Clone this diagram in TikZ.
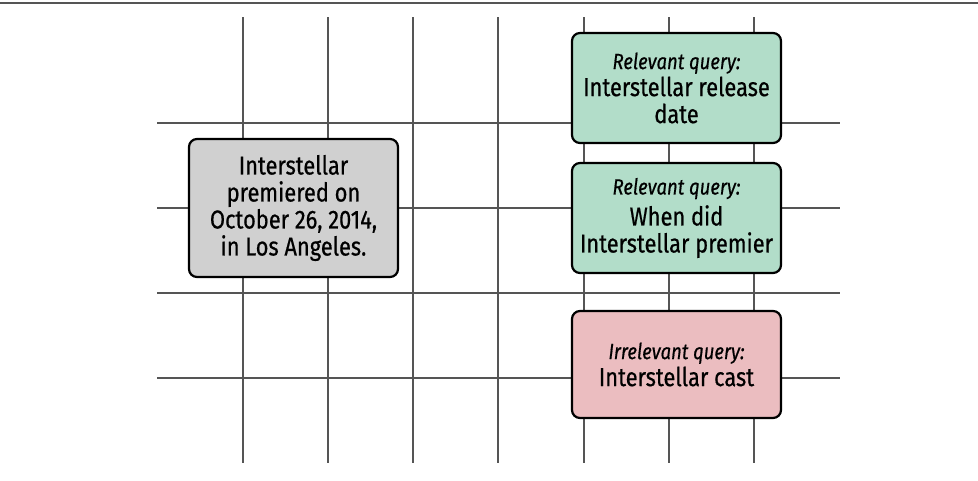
\documentclass[tikz,border=0pt]{standalone}
\usepackage{fontspec}
\setmainfont{Fira Sans}[FakeStretch=0.84,FakeBold=0.6]
\definecolor{gridc}{HTML}{555555}
\definecolor{grayfill}{HTML}{D0D0D0}
\definecolor{greenfill}{HTML}{B2DDC9}
\definecolor{redfill}{HTML}{EBBDC0}
\tikzset{
  gridline/.style={draw=gridc, line width=1.6pt},
  card/.style={draw=black, line width=2.2pt, rounded corners=8pt, align=center,
    minimum width=209pt, inner sep=2pt, font=\fontsize{26}{27}\selectfont}
}
\newcommand{\qlab}[1]{{\fontsize{22}{24}\selectfont\itshape #1}}
\begin{document}
\begin{tikzpicture}[x=1pt,y=-1pt]
\useasboundingbox (0,0) rectangle (978,480);
\fill[white] (0,0) rectangle (978,480);
\draw[draw=gridc, line width=1.2pt] (0,3) -- (978,3);
\foreach \x in {243,328,413,498,584,669,754}
  \draw[gridline] (\x,17) -- (\x,463);
\foreach \y in {123,208,293,378}
  \draw[gridline] (157,\y) -- (840,\y);
\node[card, fill=grayfill, minimum height=138pt] (fact) at (293.5,208)
  {Interstellar\\premiered on\\October 26, 2014,\\in Los Angeles.};
\node[card, fill=greenfill, minimum height=110pt] (q1) at (676.5,88)
  {\qlab{Relevant query:}\\Interstellar release\\date};
\node[card, fill=greenfill, minimum height=110pt] (q2) at (676.5,218)
  {\qlab{Relevant query:}\\[4pt]When did\\Interstellar premier};
\node[card, fill=redfill, minimum height=107pt] (q3) at (676.5,364.5)
  {\qlab{Irrelevant query:}\\Interstellar cast};
\end{tikzpicture}
\end{document}
